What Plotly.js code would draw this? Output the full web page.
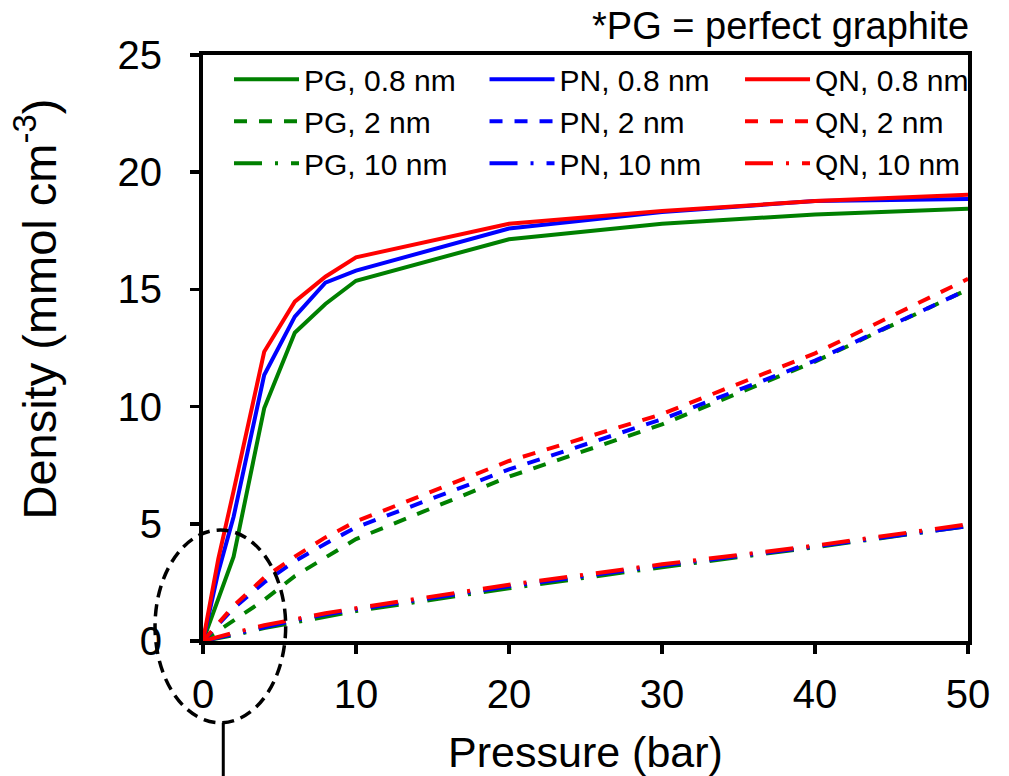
<!DOCTYPE html>
<html>
<head>
<meta charset="utf-8">
<script src="https://cdn.plot.ly/plotly-3.0.1.min.js"></script>
<style>html,body{margin:0;padding:0;background:#fff;}#chart{width:1009px;height:776px;}</style>
</head>
<body>
<div id="chart"></div>
<script>
// Pressure (bar)
const pressure = [0, 1, 2, 4, 6, 8, 10, 20, 30, 40, 50];

// Density (mmol cm^-3), pore width 0.8 nm
const pg08 = [0, 1.85, 3.6, 9.93, 13.15, 14.38, 15.37, 17.14, 17.8, 18.2, 18.44];
const pn08 = [0, 2.95, 5.3, 11.35, 13.84, 15.29, 15.8, 17.6, 18.3, 18.77, 18.86];
const qn08 = [0, 3.5, 6.4, 12.34, 14.48, 15.54, 16.37, 17.8, 18.34, 18.77, 19.04];

// pore width 2 nm
const pg2 = [0, 0.45, 0.9, 1.75, 2.77, 3.58, 4.35, 7.01, 9.24, 11.92, 15.0];
const pn2 = [0, 0.7, 1.4, 2.5, 3.4, 4.15, 4.85, 7.32, 9.46, 11.96, 15.0];
const qn2 = [0, 0.75, 1.5, 2.7, 3.6, 4.42, 5.1, 7.68, 9.68, 12.27, 15.45];

// pore width 10 nm
const pg10 = [0, 0.12, 0.25, 0.55, 0.8, 1.05, 1.28, 2.25, 3.15, 4.0, 4.9];
const pn10 = [0, 0.15, 0.3, 0.62, 0.88, 1.13, 1.35, 2.33, 3.22, 4.03, 4.9];
const qn10 = [0, 0.18, 0.35, 0.67, 0.93, 1.18, 1.4, 2.4, 3.27, 4.07, 4.98];

const xTicks = [0, 10, 20, 30, 40, 50];
const yTicks = [0, 5, 10, 15, 20, 25];

const GREEN = '#008000', BLUE = '#0000FF', RED = '#FF0000';
const DASH = '13px,12px';
const DASHDOT = '28px,13px,3px,13px';
const FONT = 'Arial, "Liberation Sans", sans-serif';

function tr(y, name, color, dash, legend, group) {
  return {
    x: pressure, y: y, name: name, type: 'scatter', mode: 'lines',
    line: {color: color, width: 4, dash: dash},
    legend: legend, legendgroup: group, hoverinfo: 'skip'
  };
}

const data = [
  tr(pg08, 'PG, 0.8 nm', GREEN, 'solid', 'legend', 'g1'),
  tr(pg2, 'PG, 2 nm', GREEN, DASH, 'legend', 'g2'),
  tr(pg10, 'PG, 10 nm', GREEN, DASHDOT, 'legend', 'g3'),
  tr(pn08, 'PN, 0.8 nm', BLUE, 'solid', 'legend2', 'b1'),
  tr(pn2, 'PN, 2 nm', BLUE, DASH, 'legend2', 'b2'),
  tr(pn10, 'PN, 10 nm', BLUE, DASHDOT, 'legend2', 'b3'),
  tr(qn08, 'QN, 0.8 nm', RED, 'solid', 'legend3', 'r1'),
  tr(qn2, 'QN, 2 nm', RED, DASH, 'legend3', 'r2'),
  tr(qn10, 'QN, 10 nm', RED, DASHDOT, 'legend3', 'r3')
];

function leg(x) {
  return {
    x: x, y: 1.003, xanchor: 'left', yanchor: 'top',
    orientation: 'v', bgcolor: 'rgba(0,0,0,0)', borderwidth: 0,
    font: {family: FONT, size: 30, color: '#000'},
    itemwidth: 65, tracegroupgap: 7.5, traceorder: 'normal'
  };
}

const layout = {
  width: 1009, height: 776,
  margin: {l: 203, r: 41, t: 55, b: 135},
  paper_bgcolor: '#fff', plot_bgcolor: '#fff',
  font: {family: FONT, color: '#000'},
  showlegend: true,
  legend: leg(0.034),
  legend2: leg(0.368),
  legend3: leg(0.702),
  xaxis: {
    range: [0, 50], tickvals: xTicks, ticktext: xTicks.map(String),
    ticks: 'outside', ticklen: 9, tickwidth: 3.5, tickcolor: '#000',
    showline: true, linewidth: 4, linecolor: '#000', mirror: true,
    showgrid: false, zeroline: false,
    tickfont: {family: FONT, size: 40, color: '#000'},
    ticklabelstandoff: 6,
    title: {text: 'Pressure (bar)', font: {family: FONT, size: 43, color: '#000'}, standoff: 24}
  },
  yaxis: {
    range: [0, 25], tickvals: yTicks, ticktext: yTicks.map(String),
    ticks: 'outside', ticklen: 9, tickwidth: 3.5, tickcolor: '#000',
    showline: true, linewidth: 4, linecolor: '#000', mirror: true,
    showgrid: false, zeroline: false,
    tickfont: {family: FONT, size: 40, color: '#000'},
    ticklabelstandoff: 20
  },
  annotations: [
    {text: 'Density (mmol cm<sup>-3</sup>)', xref: 'paper', yref: 'paper',
     x: -0.218, y: 0.566, xanchor: 'center', yanchor: 'middle', textangle: -90,
     showarrow: false, font: {family: FONT, size: 47, color: '#000'}},
    {text: '*PG = perfect graphite', xref: 'paper', yref: 'paper',
     x: 1.004, y: 1.05, xanchor: 'right', yanchor: 'middle',
     showarrow: false, font: {family: FONT, size: 38, color: '#000'}}
  ],
  shapes: [
    {type: 'circle', xref: 'paper', yref: 'paper',
     x0: -0.0627, x1: 0.1081, y0: -0.1394, y1: 0.1894,
     line: {color: '#000', width: 3.5, dash: '12px,7px'}, layer: 'above'},
    {type: 'line', xref: 'paper', yref: 'paper',
     x0: 0.0265, x1: 0.0265, y0: -0.1394, y1: -0.26,
     line: {color: '#000', width: 3}, layer: 'above'}
  ]
};

Plotly.newPlot('chart', data, layout, {displayModeBar: false, staticPlot: true});
</script>
</body>
</html>
